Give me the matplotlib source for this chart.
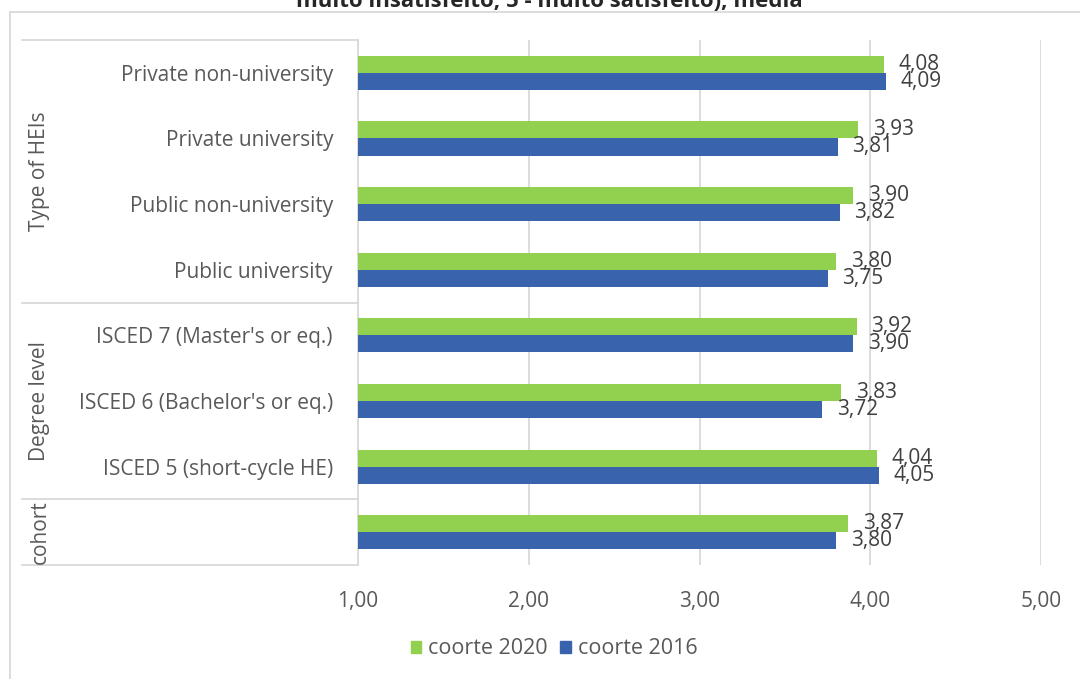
import matplotlib
matplotlib.use("Agg")
import matplotlib.pyplot as plt
from matplotlib.lines import Line2D
from matplotlib.patches import Patch
from matplotlib.transforms import blended_transform_factory

# ---- data -------------------------------------------------------------
categories = [
    "Private non-university",
    "Private university",
    "Public non-university",
    "Public university",
    "ISCED 7 (Master's or eq.)",
    "ISCED 6 (Bachelor's or eq.)",
    "ISCED 5 (short-cycle HE)",
    "",
]
coorte_2020 = [4.08, 3.93, 3.90, 3.80, 3.92, 3.83, 4.04, 3.87]
coorte_2016 = [4.09, 3.81, 3.82, 3.75, 3.90, 3.72, 4.05, 3.80]
groups = ["Type of HEIs", "Degree level", "cohort"]
group_sizes = [4, 3, 1]
series_names = ["coorte 2020", "coorte 2016"]
x_ticks = [1, 2, 3, 4, 5]
title_text = "muito insatisfeito, 5 - muito satisfeito), média"

# ---- style ------------------------------------------------------------
FONT = ["Open Sans", "DejaVu Sans"]
plt.rcParams["font.family"] = FONT
GREEN = "#92D050"
BLUE = "#3A63AE"
GRID = "#D9D9D9"
TXT = "#595959"
VAL = "#404040"

W, H, DPI = 1080, 679, 100
fig = plt.figure(figsize=(W / DPI, H / DPI), dpi=DPI)

def fx(px):
    return px / W

def fy(py):
    return 1 - py / H

ax_l, ax_r, ax_t, ax_b = 358, 1041, 40, 565
ax = fig.add_axes([fx(ax_l), fy(ax_b), fx(ax_r - ax_l), (ax_b - ax_t) / H])

n = len(categories)
ypos = list(range(n))
bh = 0.26

ax.barh([y - bh / 2 for y in ypos], coorte_2020, left=0, height=bh, color=GREEN, zorder=3)
ax.barh([y + bh / 2 for y in ypos], coorte_2016, left=0, height=bh, color=BLUE, zorder=3)

def fmt(v):
    return f"{v:.2f}".replace(".", ",")

for y, v in zip(ypos, coorte_2020):
    ax.annotate(fmt(v), (v, y - bh / 2), xytext=(10.5, 0),
                textcoords="offset points", va="center", ha="left",
                fontsize=15, color=VAL)
for y, v in zip(ypos, coorte_2016):
    ax.annotate(fmt(v), (v, y + bh / 2), xytext=(10.5, 0),
                textcoords="offset points", va="center", ha="left",
                fontsize=15, color=VAL)

ax.set_xlim(x_ticks[0], x_ticks[-1])
ax.set_ylim(n - 0.5, -0.5)
ax.set_xticks(x_ticks)
ax.set_xticklabels([fmt(t) for t in x_ticks], fontsize=15, color=TXT)
ax.set_yticks(ypos)
ax.set_yticklabels(categories, fontsize=15, color=TXT)
ax.tick_params(axis="both", length=0)
ax.tick_params(axis="x", pad=19)
ax.tick_params(axis="y", pad=18)
ax.xaxis.grid(True, color=GRID, linewidth=1.3, zorder=0)
for side in ["top", "right", "bottom"]:
    ax.spines[side].set_visible(False)
ax.spines["left"].set_color(GRID)
ax.spines["left"].set_linewidth(1.3)

# group table on the left
tr = blended_transform_factory(fig.transFigure, ax.transData)
bounds = [-0.5]
for s in group_sizes:
    bounds.append(bounds[-1] + s)
for b in bounds:
    fig.add_artist(Line2D([fx(22), fx(ax_l)], [b, b], transform=tr, color=GRID, lw=1.3))
for g, lo, hi in zip(groups, bounds[:-1], bounds[1:]):
    fig.text(fx(40), (lo + hi) / 2, g, transform=tr, rotation=90, ha="center",
             va="center", fontsize=15, color=TXT)

# chart border
fig.add_artist(Line2D([fx(9.5), fx(9.5)], [fy(12), 0], color=GRID, lw=1.3))
fig.add_artist(Line2D([fx(9.5), 1], [fy(12), fy(12)], color=GRID, lw=1.3))

# title (upper part lies beyond the top edge)
fig.text(fx(549), fy(7), title_text, ha="center", va="baseline",
         fontsize=16, fontweight="bold", color="#262626")

# legend
handles = [Patch(color=GREEN), Patch(color=BLUE)]
fig.legend(handles, series_names, loc="center", bbox_to_anchor=(fx(554), fy(649)),
           ncol=2, frameon=False, fontsize=15.5, labelcolor=TXT,
           handlelength=0.5, handleheight=0.5, handletextpad=0.3, columnspacing=0.6)

fig.savefig("out.png", dpi=DPI)
